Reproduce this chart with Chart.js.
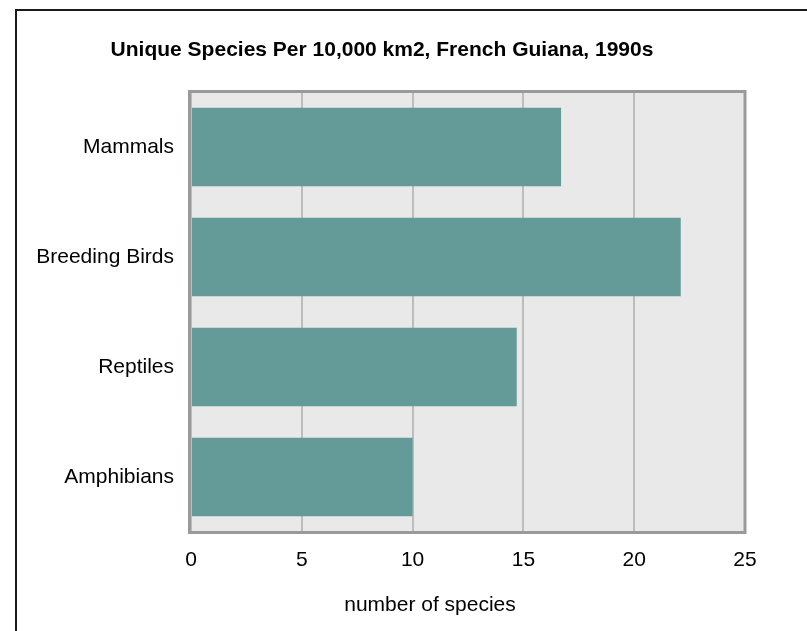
<!DOCTYPE html>
<html>
<head>
<meta charset="utf-8">
<script src="https://cdn.jsdelivr.net/npm/chart.js@4.4.1/dist/chart.umd.min.js"></script>
<style>
  html, body { margin: 0; padding: 0; background: #fff; overflow: hidden; }
  #frame { position: absolute; left: 15px; top: 9px; width: 900px; height: 700px;
           border-left: 2px solid #1a1a1a; border-top: 2px solid #1a1a1a; }
  #c { position: absolute; left: 0; top: 0; }
</style>
</head>
<body>
<div id="frame"></div>
<canvas id="c" width="807" height="631"></canvas>
<script>
const categories = ["Mammals", "Breeding Birds", "Reptiles", "Amphibians"];
const speciesValues = [16.7, 22.1, 14.7, 10.0];
const xTickValues = [0, 5, 10, 15, 20, 25];
const chartTitle = "Unique Species Per 10,000 km2, French Guiana, 1990s";
const xAxisTitle = "number of species";

const FONT = "'Liberation Sans', Arial, sans-serif";

const decor = {
  id: 'decor',
  beforeDraw(chart) {
    const { ctx, chartArea: a } = chart;
    ctx.save();
    ctx.fillStyle = '#e9e9e9';
    ctx.fillRect(a.left, a.top, a.right - a.left, a.bottom - a.top);
    ctx.restore();
  },
  afterDatasetsDraw(chart) {
    const { ctx, chartArea: a } = chart;
    ctx.save();
    ctx.strokeStyle = '#9a9a9a';
    ctx.lineWidth = 3;
    ctx.strokeRect(a.left - 1.5, a.top - 0.5, a.right - a.left + 1.5, a.bottom - a.top + 1);
    ctx.restore();
  },
  afterDraw(chart) {
    const { ctx, chartArea: a } = chart;
    ctx.save();
    ctx.fillStyle = '#000';
    ctx.textAlign = 'center';
    ctx.textBaseline = 'middle';
    ctx.font = 'bold 21px ' + FONT;
    ctx.fillText(chartTitle, a.left + 191, 50);
    ctx.font = '21px ' + FONT;
    ctx.fillText(xAxisTitle, a.left + 239, 605);
    ctx.restore();
  }
};

new Chart(document.getElementById('c'), {
  type: 'bar',
  data: {
    labels: categories,
    datasets: [{
      data: speciesValues,
      backgroundColor: '#649a98',
      borderWidth: 0,
      barPercentage: 0.715,
      categoryPercentage: 1.0
    }]
  },
  options: {
    indexAxis: 'y',
    responsive: false,
    animation: false,
    devicePixelRatio: 1,
    layout: { padding: { top: 92, right: 62, left: 0, bottom: 0 } },
    plugins: { legend: { display: false }, title: { display: false }, tooltip: { enabled: false } },
    scales: {
      x: {
        min: 0, max: 25,
        afterBuildTicks(scale) { scale.ticks = xTickValues.map(v => ({ value: v })); },
        afterFit(scale) { scale.height = 99; },
        grid: { color: '#bdbdbd', lineWidth: 2, drawTicks: false },
        border: { display: false },
        ticks: { color: '#000', font: { family: FONT, size: 21 }, padding: 16 }
      },
      y: {
        afterFit(scale) { scale.width = 191; },
        grid: { display: false, drawTicks: false },
        border: { display: false },
        ticks: { color: '#000', font: { family: FONT, size: 21 }, padding: 17 }
      }
    }
  },
  plugins: [decor]
});
</script>
</body>
</html>
